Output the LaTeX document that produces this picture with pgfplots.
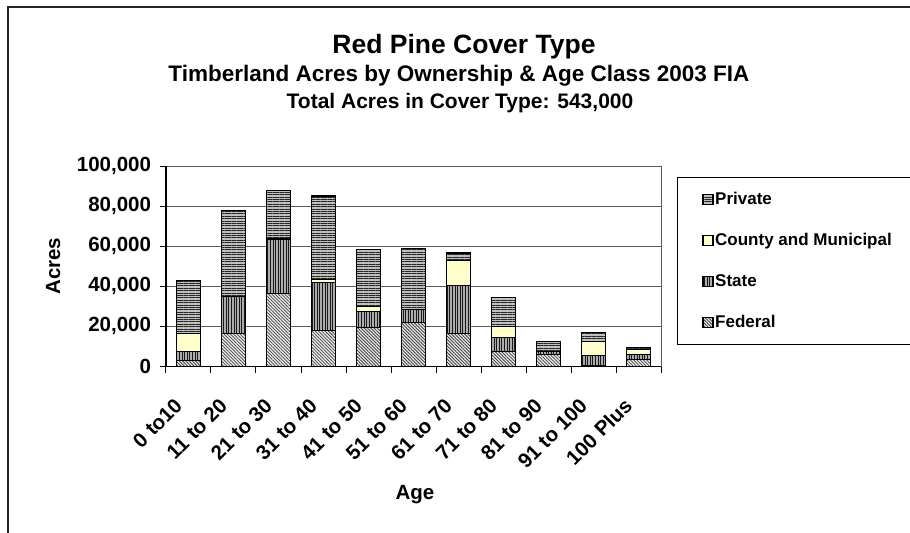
\documentclass[border=0pt]{standalone}
\usepackage{fontspec}
\setmainfont{Liberation Sans}
\usepackage{pgfplots}
\usepackage{pgfplotstable}
\pgfplotsset{compat=1.18}
\usetikzlibrary{patterns.meta}

% acres by age class, one column per owner (stack order bottom to top)
\pgfplotstableread{
x  fed    state  county private
0  3000   4600   8900   26500
1  16600  18400  0      43000
2  36500  27000  500    23800
3  18000  24000  1500   41500
4  19600  8000   2400   28300
5  22100  6400   0      30500
6  16600  23900  12500  3600
7  7600   6700   5500   14500
8  6100   1200   0      5300
9  500    5000   6800   4500
10 3500   2500   2500   1000
}\acres

\definecolor{countyfill}{HTML}{FFFFCC}
\tikzset{
  barline/.style={draw=black, line width=1.2bp},
  fedbar/.style={barline, fill=gray!15,
    postaction={pattern={Lines[angle=-45,distance=2.3bp,line width=0.8bp]}, pattern color=black!75}},
  statebar/.style={barline, fill=gray!65,
    postaction={pattern={Lines[angle=90,distance=2.6bp,line width=1bp]}, pattern color=black!90}},
  countybar/.style={barline, fill=countyfill},
  privbar/.style={barline, fill=gray!50,
    postaction={pattern={Lines[angle=0,distance=2.4bp,line width=0.9bp]}, pattern color=black!85}},
}
\newcommand{\tickfont}{\fontsize{20.5bp}{24bp}\selectfont\bfseries}

\begin{document}
\begin{tikzpicture}
\begin{axis}[
    at={(0,0)}, anchor=south west,
    width=495bp, height=200.5bp, scale only axis,
    ybar stacked, bar width=24bp,
    xmin=-0.5, xmax=10.5, ymin=0, ymax=100000,
    axis x line*=bottom, axis y line*=left,
    axis line style={black, line width=1.2bp, -},
    xtick={0,...,10},
    xticklabels={0 to10, 11 to 20, 21 to 30, 31 to 40, 41 to 50, 51 to 60,
                 61 to 70, 71 to 80, 81 to 90, 91 to 100, 100 Plus},
    major x tick style={draw=none},
    minor xtick={-0.5,0.5,...,9.5},
    minor tick length=6.5bp,
    minor x tick style={draw=black, line width=1bp},
    extra x ticks={10.5}, extra x tick labels={},
    extra x tick style={grid=major, major tick length=6.5bp,
        major x tick style={draw=black, line width=1bp},
        major grid style={draw=gray!70!black, line width=1bp}},
    ytick={0,20000,40000,60000,80000,100000},
    scaled y ticks=false,
    ymajorgrids,
    grid style={draw=gray!70!black, line width=1bp},
    tick align=outside,
    major tick length=6.5bp,
    ytick style={draw=black, line width=1bp},
    yticklabel style={font=\tickfont, xshift=-5bp, /pgf/number format/.cd, fixed, 1000 sep={,}, assume math mode=true},
    xticklabel style={font=\tickfont, xshift=-10bp, rotate=45, anchor=east, inner sep=0pt},
    xticklabel shift=29bp,
    ylabel={Acres},
    ylabel style={font=\fontsize{20.5bp}{24bp}\selectfont\bfseries, at={(axis description cs:-0.228,0.5)}, anchor=center},
    xlabel={Age},
    xlabel style={font=\fontsize{20.5bp}{24bp}\selectfont\bfseries, at={(axis description cs:0.503,-0.64)}, anchor=center},
    reverse legend,
    legend image code/.code={\draw[#1] (0bp,-5bp) rectangle (10bp,5bp);},
    legend style={at={(axis description cs:1.0323,0.9451)}, anchor=north west,
        draw=black, line width=1bp, inner xsep=25bp, inner ysep=1.5bp, row sep=0bp,
        font=\fontsize{17bp}{20bp}\selectfont\bfseries,
        nodes={minimum height=41bp, inner xsep=1.5bp, inner ysep=0bp}},
    legend cell align=left,
]
\addplot[fedbar] table[x=x,y=fed] {\acres};
\addplot[statebar] table[x=x,y=state] {\acres};
\addplot[countybar] table[x=x,y=county] {\acres};
\addplot[privbar] table[x=x,y=private] {\acres};
\legend{\makebox[240bp][l]{Federal}, \makebox[240bp][l]{State},
        \makebox[240bp][l]{County and Municipal}, \makebox[240bp][l]{Private}}
\end{axis}
% chart titles
\node[font=\fontsize{26.5bp}{30bp}\selectfont\bfseries, anchor=base] at (298bp,313.2bp) {Red Pine Cover Type};
\node[font=\fontsize{22.5bp}{26bp}\selectfont\bfseries, anchor=base] at (293bp,284.8bp) {Timberland Acres by Ownership \& Age Class 2003 FIA};
\node[font=\fontsize{21bp}{24bp}\selectfont\bfseries, anchor=base] at (294bp,258.2bp) {Total Acres in Cover Type: 543,000};
% chart area frame (cut at right and bottom)
\draw[black!85, line width=1.5bp] (-158bp,-200bp) -- (-158bp,359.5bp) -- (800bp,359.5bp);
\pgfresetboundingbox
\path[use as bounding box] (-166bp,-166.5bp) rectangle (744bp,366.5bp);
\end{tikzpicture}
\end{document}
